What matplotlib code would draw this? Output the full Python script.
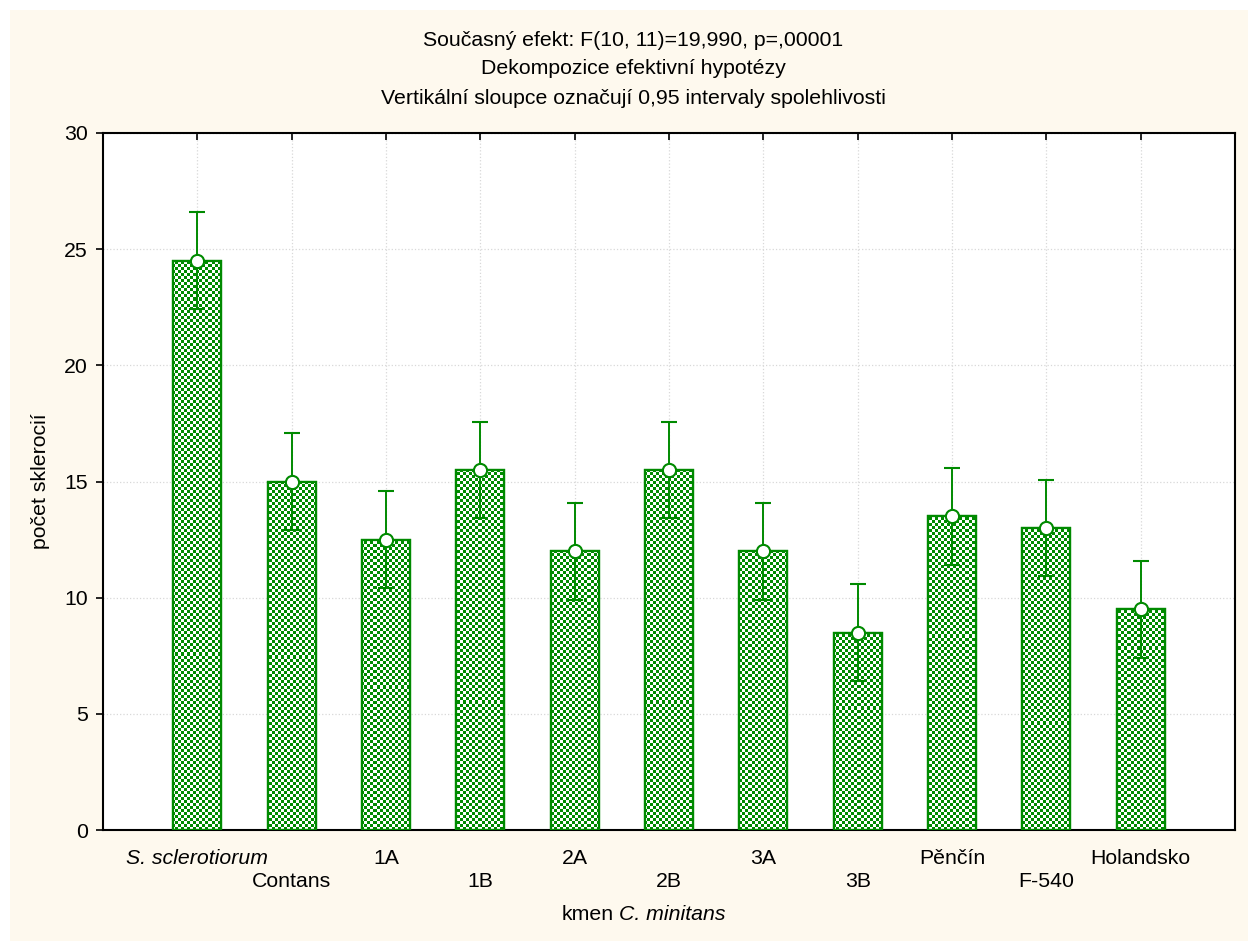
import numpy as np
import matplotlib.pyplot as plt
from matplotlib.colors import ListedColormap
from matplotlib.patches import Rectangle

plt.rcParams['font.family'] = ['Liberation Sans', 'DejaVu Sans']

# mean sclerotia count per strain, with 0.95 confidence half-widths
strains = ['S. sclerotiorum', 'Contans', '1A', '1B', '2A', '2B', '3A', '3B',
           'Pěnčín', 'F-540', 'Holandsko']
means = [24.5, 15.0, 12.5, 15.5, 12.0, 15.5, 12.0, 8.5, 13.5, 13.0, 9.5]
ci_half = [2.08, 2.08, 2.08, 2.08, 2.08, 2.08, 2.08, 2.08, 2.08, 2.08, 2.08]
yticks = [0, 5, 10, 15, 20, 25, 30]

green = '#008a00'
cream = '#fef9ee'
fs = 15.3

fig = plt.figure(figsize=(12.48, 9.41), dpi=100)
fig.patches.append(Rectangle((10 / 1248, 0), 1, 1 - 10 / 941, transform=fig.transFigure,
                             facecolor=cream, edgecolor='none', zorder=-10))
ax = fig.add_axes([103 / 1248, 1 - 830 / 941, 1132 / 1248, 697 / 941])
ax.set_facecolor('white')

x = np.arange(len(strains))
ax.set_xlim(-1, 11)
ax.set_ylim(0, 30)

bars = ax.bar(x, means, width=0.51, facecolor='white', edgecolor=green, linewidth=1.6, zorder=2)

# checkered fill, clipped to each bar
ny, nx = 697 // 3, 1132 // 3
checker = (np.add.outer(np.arange(ny), np.arange(nx)) % 2).astype(float)
for b in bars:
    im = ax.imshow(checker, extent=(-1, 11, 0, 30), cmap=ListedColormap(['white', green]),
                   interpolation='nearest', aspect='auto', zorder=2.5)
    im.set_clip_path(b)
for b in bars:
    ax.add_patch(Rectangle(b.get_xy(), b.get_width(), b.get_height(), facecolor='none',
                           edgecolor=green, linewidth=1.6, zorder=3))

ax.errorbar(x, means, yerr=ci_half, fmt='o', color=green, ecolor=green, elinewidth=1.4,
            capsize=6, capthick=1.4, markersize=9.5, markerfacecolor='white',
            markeredgecolor=green, markeredgewidth=1.5, zorder=4)

ax.set_yticks(yticks)
# staggered category labels: even ones on the first row, odd ones below
ax.set_xticks(x[::2])
ax.set_xticklabels(strains[::2], fontsize=fs)
ax.set_xticks(x[1::2], minor=True)
ax.set_xticklabels(strains[1::2], minor=True, fontsize=fs)
ax.get_xticklabels()[0].set_fontstyle('italic')
ax.tick_params(axis='x', which='both', direction='in', top=True, length=5, width=1.2)
ax.tick_params(axis='x', which='major', pad=14)
ax.tick_params(axis='x', which='minor', pad=30)
ax.tick_params(axis='y', direction='out', length=5, width=1.2, labelsize=fs, pad=6)

ax.grid(True, which='both', axis='x', color='#d8d8d8', linestyle=':', linewidth=0.9)
ax.grid(True, which='major', axis='y', color='#d8d8d8', linestyle=':', linewidth=0.9)
ax.set_axisbelow(True)
for sp in ax.spines.values():
    sp.set_linewidth(1.5)
    sp.set_color('black')

fig.text(633 / 1248, 1 - 40 / 941, 'Současný efekt: F(10, 11)=19,990, p=,00001',
         ha='center', va='center', fontsize=fs)
fig.text(633 / 1248, 1 - 69 / 941, 'Dekompozice efektivní hypotézy',
         ha='center', va='center', fontsize=fs)
fig.text(633 / 1248, 1 - 98 / 941, 'Vertikální sloupce označují 0,95 intervaly spolehlivosti',
         ha='center', va='center', fontsize=fs)

fig.text(41 / 1248, 1 - 481 / 941, 'počet sklerocií', rotation=90,
         ha='center', va='center', fontsize=fs)
fig.text(614 / 1248, 1 - 915 / 941, 'kmen', ha='right', va='center', fontsize=fs)
fig.text(619 / 1248, 1 - 915 / 941, 'C. minitans', ha='left', va='center',
         fontsize=fs, fontstyle='italic')

fig.savefig('out.png', dpi=100)
